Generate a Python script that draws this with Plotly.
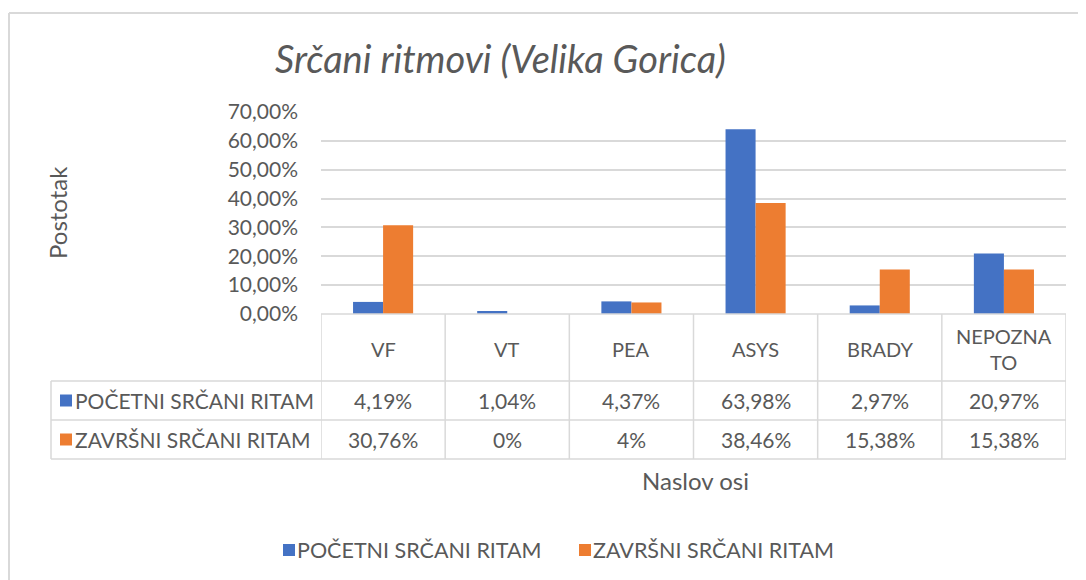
import plotly.graph_objects as go

# ---- data ----
categories = ["VF", "VT", "PEA", "ASYS", "BRADY", "NEPOZNATO"]
category_labels = ["VF", "VT", "PEA", "ASYS", "BRADY", "NEPOZNA<br>TO"]
series_names = ["POČETNI SRČANI RITAM", "ZAVRŠNI SRČANI RITAM"]
pocetni = [0.0419, 0.0104, 0.0437, 0.6398, 0.0297, 0.2097]
zavrsni = [0.3076, 0.0, 0.04, 0.3846, 0.1538, 0.1538]
pocetni_labels = ["4,19%", "1,04%", "4,37%", "63,98%", "2,97%", "20,97%"]
zavrsni_labels = ["30,76%", "0%", "4%", "38,46%", "15,38%", "15,38%"]
y_ticks = [0, 0.1, 0.2, 0.3, 0.4, 0.5, 0.6, 0.7]
title_text = "Srčani ritmovi (Velika Gorica)"
y_title = "Postotak"
x_title = "Naslov osi"

colors = ["#4472C4", "#ED7D31"]
W, H = 1086, 580
OFF = 8  # page body margin
FONT = "Lato"
TXT = "#595959"
GRID = "#d9d9d9"


def px(x):
    return (x - OFF) / W


def py(y):
    return 1 - (y - OFF) / H


fig = go.Figure()
for name, vals, col in zip(series_names, [pocetni, zavrsni], colors):
    fig.add_trace(go.Bar(x=list(range(len(categories))), y=vals, name=name,
                         marker=dict(color=col, line=dict(width=0))))

# geometry (window pixels)
x0p, x1p = 321, 1066
y_top, y_zero = 112, 314
row_cat_bot, row1_bot, row2_bot = 381, 420, 459
table_left = 51

shapes = []
line = dict(color=GRID, width=1.5)
shapes.append(dict(type="line", xref="paper", yref="paper", x0=px(x0p), x1=px(x1p),
                   y0=py(y_zero), y1=py(y_zero), line=line))
for yy in [row_cat_bot, row1_bot, row2_bot]:
    shapes.append(dict(type="line", xref="paper", yref="paper", x0=px(table_left), x1=px(x1p),
                       y0=py(yy), y1=py(yy), line=line))
for i in range(len(categories) + 1):
    shapes.append(dict(type="line", xref="x", yref="paper", x0=i - 0.5, x1=i - 0.5,
                       y0=py(y_zero), y1=py(row2_bot), line=line))
shapes.append(dict(type="line", xref="paper", yref="paper", x0=px(table_left), x1=px(table_left),
                   y0=py(row_cat_bot), y1=py(row2_bot), line=line))
rows = [(row_cat_bot, row1_bot), (row1_bot, row2_bot)]
# legend keys inside the table
for col, (ya, yb) in zip(colors, rows):
    yc = (ya + yb) / 2
    shapes.append(dict(type="rect", xref="paper", yref="paper", x0=px(60), x1=px(72),
                       y0=py(yc - 6), y1=py(yc + 6), fillcolor=col, line=dict(width=0)))
# bottom legend keys
leg_y = 550
leg_x = [283, 579]
for col, lx in zip(colors, leg_x):
    shapes.append(dict(type="rect", xref="paper", yref="paper", x0=px(lx), x1=px(lx + 12),
                       y0=py(leg_y - 6), y1=py(leg_y + 6), fillcolor=col, line=dict(width=0)))
# outer frame
frame = dict(color="#d9d9d9", width=2)
shapes.append(dict(type="line", xref="paper", yref="paper", x0=px(9), x1=1, y0=py(13), y1=py(13), line=frame))
shapes.append(dict(type="line", xref="paper", yref="paper", x0=px(9), x1=px(9), y0=py(13), y1=0, line=frame))

ann = []
f = dict(family=FONT, size=21, color=TXT)
fc = dict(family=FONT, size=20, color=TXT)
for i, lab in enumerate(category_labels):
    ann.append(dict(x=i, xref="x", y=py((y_zero + row_cat_bot) / 2 + 1), yref="paper", text=lab,
                    showarrow=False, font=fc, xanchor="center", yanchor="middle"))
for labels, (ya, yb) in zip([pocetni_labels, zavrsni_labels], rows):
    for i, lab in enumerate(labels):
        ann.append(dict(x=i, xref="x", y=py((ya + yb) / 2), yref="paper", text=lab,
                        showarrow=False, font=f, xanchor="center", yanchor="middle"))
for name, (ya, yb) in zip(series_names, rows):
    ann.append(dict(x=px(75), xref="paper", y=py((ya + yb) / 2), yref="paper", text=name,
                    showarrow=False, font=f, xanchor="left", yanchor="middle", xshift=-2))
for name, lx in zip(series_names, leg_x):
    ann.append(dict(x=px(lx + 14), xref="paper", y=py(leg_y), yref="paper", text=name,
                    showarrow=False, font=dict(family=FONT, size=21.5, color=TXT),
                    xanchor="left", yanchor="middle", xshift=-2))
ann.append(dict(x=px(500), xref="paper", y=py(58), yref="paper", text=title_text, showarrow=False,
                font=dict(family=FONT, size=38, color=TXT, style="italic"),
                xanchor="center", yanchor="middle"))
ann.append(dict(x=px(57), xref="paper", y=py(213), yref="paper", text=y_title, showarrow=False,
                textangle=-90, font=dict(family=FONT, size=24, color=TXT), xanchor="center", yanchor="middle"))
ann.append(dict(x=px(695), xref="paper", y=py(480), yref="paper", text=x_title, showarrow=False,
                font=dict(family=FONT, size=24, color=TXT), xanchor="center", yanchor="middle"))

fig.update_layout(
    width=W, height=H,
    margin=dict(l=0, r=0, t=0, b=0, autoexpand=False),
    paper_bgcolor="white", plot_bgcolor="white",
    separators=",.",
    barmode="group", bargap=0.516, bargroupgap=0,
    font=dict(family=FONT, color=TXT, size=18),
    xaxis=dict(domain=[px(x0p), px(x1p)], range=[-0.5, len(categories) - 0.5], automargin=False,
               showticklabels=False, showgrid=False, zeroline=False, showline=False, ticks=""),
    yaxis=dict(domain=[py(y_zero), py(y_top)], range=[0, 0.7], tickvals=y_ticks, automargin=False,
               tickformat=".2%", showgrid=True, gridcolor=GRID, gridwidth=1.5,
               zeroline=False, showline=False, ticks="", ticklabelstandoff=22,
               tickfont=dict(family=FONT, size=21, color=TXT)),
    showlegend=False,
    shapes=shapes, annotations=ann,
)

fig.write_html("out.html")
